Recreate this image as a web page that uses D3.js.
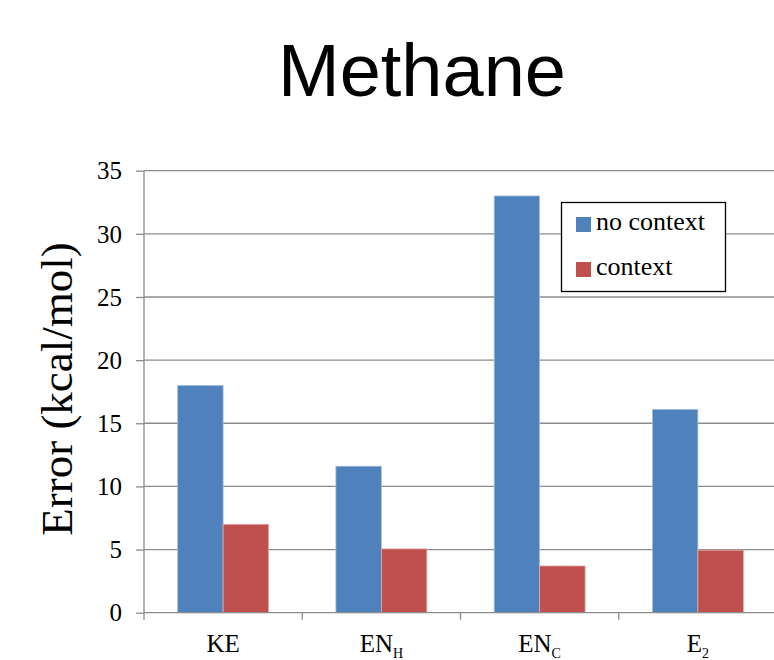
<!DOCTYPE html>
<html><head><meta charset="utf-8">
<script src="https://cdn.jsdelivr.net/npm/d3@7"></script>
<style>body{margin:0;background:#fff}</style>
</head><body>
<svg id="c" width="774" height="660"></svg>
<script>
const categories = ["KE", "EN_H", "EN_C", "E_2"];
const catMain = ["KE", "EN", "EN", "E"];
const catSub = ["", "H", "C", "2"];
const seriesNames = ["no context", "context"];
const noContext = [18.0, 11.6, 33.0, 16.1];
const context = [7.0, 5.05, 3.7, 4.95];
const yTicks = [0, 5, 10, 15, 20, 25, 30, 35];
const colors = ["#4F81BD", "#C0504D"];

const svg = d3.select("#c");
const m = {left: 144, right: 777, top: 170.7, bottom: 612.7};
const serifFam = "Liberation Serif";

svg.append("text").attr("x", 422).attr("y", 96).attr("text-anchor", "middle")
  .attr("font-family", "Liberation Sans").attr("font-size", 74)
  .text("Methane");

const x = d3.scaleBand().domain(categories).range([m.left, m.right]).paddingInner(0).paddingOuter(0);
const y = d3.scaleLinear().domain([0, 35]).range([m.bottom, m.top]);
const xs = d3.scaleBand().domain(seriesNames).range([0, x.bandwidth()]).paddingOuter(0.74).paddingInner(0);

// gridlines
svg.append("g").selectAll("line").data(yTicks.slice(1)).join("line")
  .attr("x1", m.left).attr("x2", 774).attr("y1", d => y(d)).attr("y2", d => y(d))
  .attr("stroke", "#8c8c8c").attr("stroke-width", 1.3);

// y axis
const yAxis = svg.append("g").attr("transform", `translate(${m.left},0)`)
  .call(d3.axisLeft(y).tickValues(yTicks).tickSize(8).tickPadding(14))
  .attr("font-family", serifFam).attr("font-size", 25);
yAxis.select(".domain").remove();
yAxis.append("line").attr("x1", 0).attr("x2", 0).attr("y1", y(35)).attr("y2", m.bottom + 7).attr("stroke", "#8c8c8c").attr("stroke-width", 1.3);
yAxis.selectAll(".tick line").attr("stroke", "#8c8c8c").attr("stroke-width", 1.3);
yAxis.selectAll(".tick text").attr("fill", "#000").attr("dy", "0.33em");

// bars
const data = categories.map((c, i) => ({c, vals: [noContext[i], context[i]]}));
const groups = svg.append("g").selectAll("g").data(data).join("g")
  .attr("transform", d => `translate(${x(d.c)},0)`);
groups.selectAll("rect").data(d => d.vals.map((v, j) => ({v, s: seriesNames[j], j}))).join("rect")
  .attr("x", d => xs(d.s)).attr("width", xs.bandwidth())
  .attr("y", d => y(d.v)).attr("height", d => y(0) - y(d.v))
  .attr("fill", d => colors[d.j])
  .attr("stroke", d => d.j === 0 ? "#a9c1e0" : "#e0a9a7").attr("stroke-width", 0.8);

// x axis
const xAxisG = svg.append("g").attr("transform", `translate(0,${m.bottom})`);
xAxisG.append("line").attr("x1", m.left).attr("x2", 774).attr("y1", 0).attr("y2", 0).attr("stroke", "#8c8c8c").attr("stroke-width", 1.3);
const bounds = categories.map(c => x(c) + x.bandwidth()).slice(0, 3);
xAxisG.selectAll(".tk").data(bounds).join("line").attr("class", "tk")
  .attr("x1", d => d).attr("x2", d => d).attr("y1", 0).attr("y2", 7).attr("stroke", "#8c8c8c").attr("stroke-width", 1.3);
const lbl = xAxisG.selectAll(".lb").data(categories).join("text").attr("class", "lb")
  .attr("x", d => x(d) + x.bandwidth() / 2).attr("y", 39).attr("text-anchor", "middle")
  .attr("font-family", serifFam).attr("font-size", 25);
lbl.each(function(d, i) {
  const t = d3.select(this);
  t.append("tspan").text(catMain[i]);
  if (catSub[i]) t.append("tspan").attr("dy", 6).attr("font-size", 14).text(catSub[i]);
});

// y label
svg.append("text").attr("transform", "translate(72,389) rotate(-90)").attr("text-anchor", "middle")
  .attr("font-family", serifFam).attr("font-size", 45).text("Error (kcal/mol)");

// legend
const lg = svg.append("g");
lg.append("rect").attr("x", 561.5).attr("y", 202.5).attr("width", 164).attr("height", 89)
  .attr("fill", "#fff").attr("stroke", "#000").attr("stroke-width", 1.3);
const items = lg.selectAll(".it").data(seriesNames).join("g").attr("class", "it")
  .attr("transform", (d, i) => `translate(576,${217 + i * 45})`);
items.append("rect").attr("width", 15).attr("height", 15).attr("fill", (d, i) => colors[i]);
items.append("text").attr("x", 20).attr("y", 13).attr("font-family", serifFam).attr("font-size", 26).text(d => d);
</script>
</body></html>
